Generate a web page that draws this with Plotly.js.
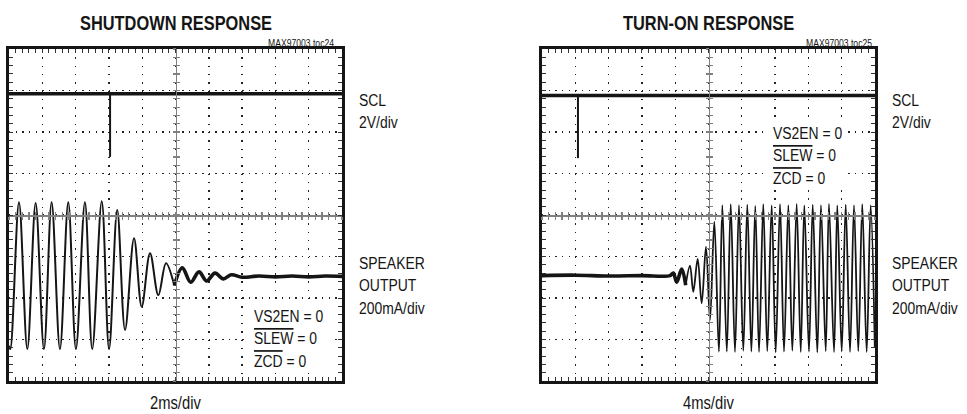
<!DOCTYPE html>
<html><head><meta charset="utf-8">
<script src="https://cdn.plot.ly/plotly-3.0.1.min.js"></script>
<style>
html,body{margin:0;padding:0;background:#fff;}
#chart{width:967px;height:414px;}
/* emulate a condensed face (Arial Narrow = 82% of Arial) */
.annotation-text{transform-box:fill-box;transform:scaleX(0.82);}
.annotation-text[text-anchor="start"]{transform-origin:0% 50%;}
.annotation-text[text-anchor="middle"]{transform-origin:50% 50%;}
.annotation-text[text-anchor="end"]{transform-origin:100% 50%;}
</style>
</head><body><div id="chart"></div>
<script>
// ---------- data (time in ms, amplitude in scope divisions) ----------
// Left: SHUTDOWN RESPONSE (2ms/div)
const leftSclT = [0, 5, 10, 15, 20];
const leftSclY = [2.92, 2.92, 2.92, 2.92, 2.92];
const leftSpikeT = [6.07, 6.07];
const leftSpikeY = [2.92, 1.40];
const leftSpkT = [0, 0.08, 0.60, 1.10, 1.60, 2.10, 2.56, 3.06, 3.56, 4.02, 4.56, 5.00, 5.57, 6.01, 6.50, 6.97, 7.51, 7.97, 8.47, 8.97, 9.43, 9.93];
const leftSpkY = [-3.15, -3.23, 0.31, -3.23, 0.29, -3.23, 0.31, -3.23, 0.31, -3.23, 0.31, -3.23, 0.33, -3.23, 0.12, -2.77, -0.56, -2.21, -0.92, -1.93, -1.16, -1.70];
const leftTailT = [9.93, 10.41, 10.91, 11.41, 11.87, 12.37, 12.87, 13.35, 14.0, 15.0, 16.0, 17.0, 18.0, 19.0, 20.0];
const leftTailY = [-1.70, -1.27, -1.62, -1.37, -1.59, -1.40, -1.54, -1.44, -1.50, -1.47, -1.49, -1.47, -1.49, -1.47, -1.48];

// Right: TURN-ON RESPONSE (4ms/div)
const rightSclT = [0, 10, 20, 30, 40];
const rightSclY = [2.88, 2.88, 2.88, 2.88, 2.88];
const rightSpikeT = [4.32, 4.32];
const rightSpikeY = [2.88, 1.37];
const rightFlatT = [0, 4, 8, 12, 15.38, 15.77, 16.18, 16.78, 17.26];
const rightFlatY = [-1.46, -1.45, -1.47, -1.46, -1.46, -1.40, -1.62, -1.30, -1.69];
const rightSpkT = [17.26, 17.78, 18.17, 18.70, 19.18, 19.70, 20.18, 20.70, 21.25, 21.66, 22.20, 22.67, 23.18, 23.66, 24.18, 24.66, 25.15, 25.62, 26.07, 26.58, 27.06, 27.59, 28.07, 28.59, 29.07, 29.59, 30.07, 30.59, 31.08, 31.51, 32.07, 32.52, 33.07, 33.51, 34.08, 34.47, 35.08, 35.47, 36.00, 36.48, 37.00, 37.48, 37.99, 38.47, 39.00, 39.48, 39.98];
const rightSpkY = [-1.69, -1.22, -1.85, -1.06, -2.13, -0.76, -2.53, -0.16, -3.29, 0.24, -3.29, 0.26, -3.30, 0.24, -3.27, 0.25, -3.29, 0.22, -3.30, 0.26, -3.28, 0.23, -3.31, 0.26, -3.29, 0.24, -3.27, 0.27, -3.30, 0.23, -3.29, 0.25, -3.31, 0.24, -3.28, 0.27, -3.30, 0.23, -3.29, 0.25, -3.30, 0.24, -3.28, 0.26, -3.30, 0.24, -3.20];

// ---------- text ----------
const titles = ['SHUTDOWN RESPONSE', 'TURN-ON RESPONSE'];
const tocs = ['MAX97003 toc24', 'MAX97003 toc25'];
const timeLabels = ['2ms/div', '4ms/div'];
const chLabel1 = 'SCL<br>2V/div';
const chLabel2 = 'SPEAKER<br>OUTPUT<br>200mA/div';
const condLabel = 'VS2EN = 0<br><span style="text-decoration:overline">SLEW</span> = 0<br><span style="text-decoration:overline">ZCD</span> = 0';

// ---------- layout geometry ----------
const W = 967, H = 414;
const yDom = [1 - 381 / H, 1 - 49 / H];
const xDomL = [9 / W, 342 / W];
const xDomR = [542 / W, 875 / W];
const yMid = (yDom[0] + yDom[1]) / 2;
const FONT = 'Liberation Sans, Arial, sans-serif';
const INK = '#151515';

function mainX(dom, rng, dt, anchor) {
  return {domain: dom, range: rng, anchor: anchor, dtick: dt, tick0: 0,
    showgrid: true, gridcolor: '#222', gridwidth: 1.4, griddash: '1.4px,6.9px',
    showline: true, linecolor: INK, linewidth: 2.6, mirror: 'allticks',
    ticks: 'inside', ticklen: 4, tickwidth: 1, tickcolor: '#333',
    minor: {dtick: dt / 5, tick0: 0, ticks: 'inside', ticklen: 3, tickwidth: 1, tickcolor: '#333', showgrid: false},
    showticklabels: false, zeroline: false, fixedrange: true};
}
function mainY(rng, anchor) {
  return {domain: yDom, range: rng, anchor: anchor, dtick: 1, tick0: 0,
    showgrid: true, gridcolor: '#222', gridwidth: 1.4, griddash: '1.4px,5.26px',
    showline: true, linecolor: INK, linewidth: 2.6, mirror: 'allticks',
    ticks: 'inside', ticklen: 4, tickwidth: 1, tickcolor: '#333',
    minor: {dtick: 0.2, tick0: 0, ticks: 'inside', ticklen: 3, tickwidth: 1, tickcolor: '#333', showgrid: false},
    showticklabels: false, zeroline: false, fixedrange: true};
}
function centerX(over, rng, dt, side) {
  return {overlaying: over, anchor: 'free', position: yMid, range: rng, dtick: dt / 5, tick0: 0,
    showline: true, linecolor: '#808080', linewidth: 1.6, showgrid: false, zeroline: false,
    ticks: side, ticklen: 3, tickwidth: 1.2, tickcolor: '#808080', showticklabels: false, fixedrange: true};
}
function centerY(over, pos, side) {
  return {overlaying: over, anchor: 'free', position: pos, side: 'left', range: [-4, 4], dtick: 0.2, tick0: 0,
    showline: true, linecolor: '#808080', linewidth: 1.6, showgrid: false, zeroline: false,
    ticks: side, ticklen: 3, tickwidth: 1.2, tickcolor: '#808080', showticklabels: false, fixedrange: true};
}

function line(x, y, xa, ya, w, shape) {
  return {x: x, y: y, xaxis: xa, yaxis: ya, type: 'scatter', mode: 'lines',
    line: {color: INK, width: w, shape: shape || 'linear', smoothing: 1}, hoverinfo: 'skip'};
}
function dummy(xa, ya) { return {x: [], y: [], xaxis: xa, yaxis: ya, type: 'scatter', mode: 'lines', hoverinfo: 'skip'}; }

const data = [
  dummy('x3', 'y'), dummy('x4', 'y'), dummy('x', 'y3'), dummy('x', 'y4'),
  dummy('x5', 'y2'), dummy('x6', 'y2'), dummy('x2', 'y5'), dummy('x2', 'y6'),
  line(leftSclT, leftSclY, 'x', 'y', 3.6),
  line(leftSpikeT, leftSpikeY, 'x', 'y', 2),
  line(leftSpkT, leftSpkY, 'x', 'y', 2, 'spline'),
  line(leftTailT, leftTailY, 'x', 'y', 3.6, 'spline'),
  line(rightSclT, rightSclY, 'x2', 'y2', 3.6),
  line(rightSpikeT, rightSpikeY, 'x2', 'y2', 2),
  line(rightFlatT, rightFlatY, 'x2', 'y2', 3.6, 'spline'),
  line(rightSpkT, rightSpkY, 'x2', 'y2', 1.8, 'spline')
];

const xcL = (xDomL[0] + xDomL[1]) / 2, xcR = (xDomR[0] + xDomR[1]) / 2;
function ann(text, x, y, size, xa, ya, al, bold) {
  return {text: text, x: x, y: y, xref: 'paper', yref: 'paper', xanchor: xa, yanchor: ya,
    showarrow: false, align: al, borderpad: 0,
    font: {family: FONT, size: size, color: INK, weight: bold ? 'bold' : 'normal'}};
}
// white backing panels behind the condition notes (hide the graticule there)
function panel(x0, x1, y0, y1) {
  return {type: 'rect', xref: 'paper', yref: 'paper', layer: 'above',
    x0: x0 / W, x1: x1 / W, y0: 1 - y1 / H, y1: 1 - y0 / H,
    fillcolor: '#ffffff', line: {width: 0}};
}

const layout = {
  width: W, height: H, margin: {l: 0, r: 0, t: 0, b: 0},
  paper_bgcolor: '#fff', plot_bgcolor: '#fff', showlegend: false,
  xaxis: mainX(xDomL, [0, 20], 2, 'y'),
  yaxis: mainY([-4, 4], 'x'),
  xaxis2: mainX(xDomR, [0, 40], 4, 'y2'),
  yaxis2: mainY([-4, 4], 'x2'),
  xaxis3: centerX('x', [0, 20], 2, 'outside'),
  xaxis4: centerX('x', [0, 20], 2, 'inside'),
  yaxis3: centerY('y', xcL, 'outside'),
  yaxis4: centerY('y', xcL, 'inside'),
  xaxis5: centerX('x2', [0, 40], 4, 'outside'),
  xaxis6: centerX('x2', [0, 40], 4, 'inside'),
  yaxis5: centerY('y2', xcR, 'outside'),
  yaxis6: centerY('y2', xcR, 'inside'),
  shapes: [panel(246, 330, 304, 372), panel(764, 845, 123, 186)],
  annotations: [
    ann(titles[0], xcL, 1 - 22 / H, 20, 'center', 'middle', 'center', true),
    ann(titles[1], xcR, 1 - 22 / H, 20, 'center', 'middle', 'center', true),
    ann(tocs[0], 336 / W, 1 - 43 / H, 10.5, 'right', 'middle', 'right'),
    ann(tocs[1], 873 / W, 1 - 43 / H, 10.5, 'right', 'middle', 'right'),
    ann(chLabel1, 358 / W, 1 - 111 / H, 17, 'left', 'middle', 'left'),
    ann(chLabel2, 358 / W, 1 - 285 / H, 17, 'left', 'middle', 'left'),
    ann(chLabel1, 891 / W, 1 - 111 / H, 17, 'left', 'middle', 'left'),
    ann(chLabel2, 891 / W, 1 - 285 / H, 17, 'left', 'middle', 'left'),
    ann(condLabel, 253 / W, 1 - 338 / H, 17, 'left', 'middle', 'left'),
    ann(condLabel, 772 / W, 1 - 155 / H, 17, 'left', 'middle', 'left'),
    ann(timeLabels[0], xcL, 1 - 403 / H, 18, 'center', 'middle', 'center'),
    ann(timeLabels[1], xcR, 1 - 403 / H, 18, 'center', 'middle', 'center')
  ]
};

Plotly.newPlot('chart', data, layout, {staticPlot: true, displayModeBar: false});
</script></body></html>
